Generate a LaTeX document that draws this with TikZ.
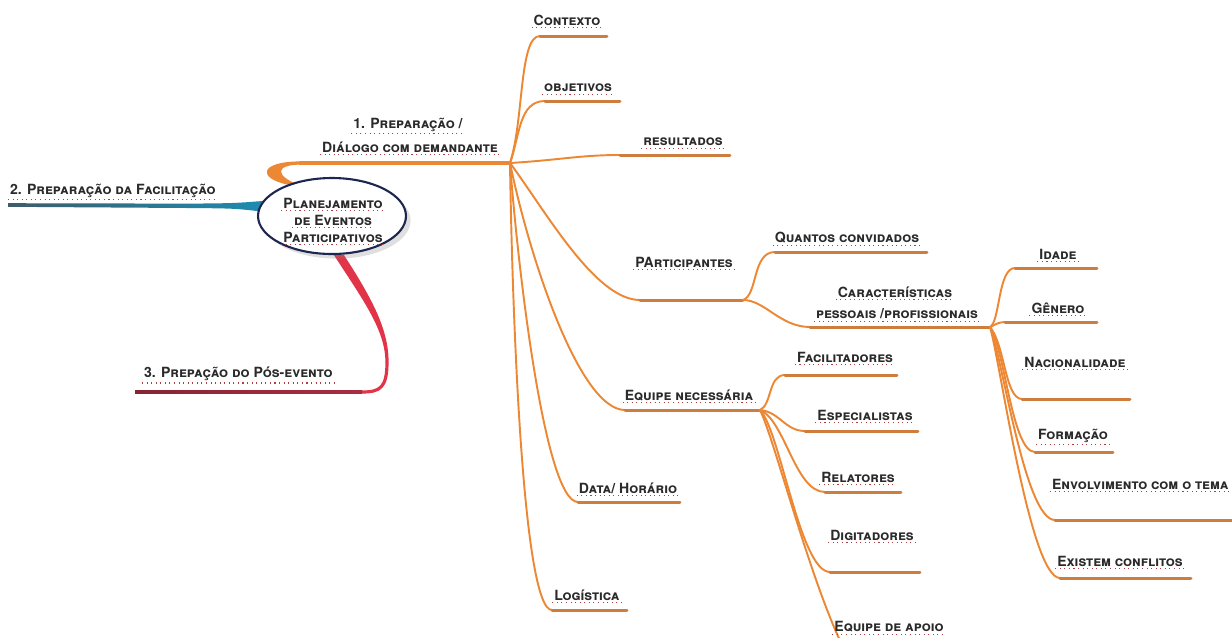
\documentclass[tikz,border=0pt]{standalone}
\usepackage{fontspec}
\setmainfont{TeX Gyre Heros}
\usetikzlibrary{calc,shapes.geometric,shadows,backgrounds}
\definecolor{twigorange}{RGB}{236,136,52}
\definecolor{leafbrown}{RGB}{205,125,62}
\definecolor{tealbright}{RGB}{28,140,176}
\definecolor{tealdark}{RGB}{62,92,106}
\definecolor{redbright}{RGB}{226,52,72}
\definecolor{reddark}{RGB}{168,46,66}
\definecolor{textgray}{RGB}{42,42,42}
\definecolor{ovalblue}{RGB}{28,38,78}
\definecolor{spellred}{RGB}{172,64,64}
\tikzset{
  spell/.style={dotted,line width=0.6pt,spellred},
  lbl/.style={font=\fontsize{8}{9}\selectfont\bfseries\scshape,text=textgray,inner sep=1pt,
    append after command={(\tikzlastnode.south west) edge[spell] (\tikzlastnode.south east)}},
  twig/.style={twigorange,line width=1.1pt,line cap=round},
  leaf/.style={leafbrown,line width=1.7pt,line cap=round},
  trunk/.style={twigorange,line width=1.8pt,line cap=round},
}
\begin{document}
\begin{tikzpicture}[x=0.02cm,y=-0.02cm,line join=round]
  \useasboundingbox (0,0) rectangle (1232,637);
  % centre
  \node[ellipse,draw=ovalblue,line width=1.2pt,fill=white,minimum width=2.96cm,
    minimum height=1.52cm,drop shadow={opacity=0.25}] (oval) at (332,216) {};
  \node[lbl] (plan1) at (333,203) {Planejamento};
  \node[lbl] (plan2) at (333,220) {de Eventos};
  \node[lbl] (plan3) at (333,237) {Participativos};

  % hubs and line ends
  \coordinate (hubA) at (510,163);
  \coordinate (hubP) at (743,300);
  \coordinate (hubE) at (760,410);
  \coordinate (hubC) at (990,327);
  \coordinate (trunkS) at (300,163);
  \coordinate (prep2end) at (8,205);
  \coordinate (redM) at (387,362);
  \coordinate (prep3S) at (362,392);
  \coordinate (prep3end) at (135,392);

  \begin{scope}[on background layer]
    % 1. orange trunk, thick at the oval
    \draw[trunk] (trunkS) -- (hubA);
    \fill[twigorange] ($(oval.140)+(-4,2)$) .. controls (256,178) and (260,161.5) .. ($(trunkS)+(0,-1.6)$)
      -- ($(trunkS)+(0,1.6)$) .. controls (274,165) and (276,176) .. ($(oval.140)+(6,2)$) -- cycle;
    % 2. teal
    \shade[left color=tealdark,right color=tealbright]
      ($(prep2end)+(0,-1.8)$) -- ($(oval.172)+(-70,-2.2)$)
      .. controls ($(oval.172)+(-25,-2.6)$) .. ($(oval.172)+(5,-5)$)
      -- ($(oval.172)+(5,6)$)
      .. controls ($(oval.172)+(-25,2.6)$) .. ($(oval.172)+(-70,2.2)$)
      -- ($(prep2end)+(0,1.8)$) -- cycle;
    % 3. red
    \fill[redbright] ($(oval.-80)+(-5,0)$) .. controls (363,300) and (385.4,330) .. ($(redM)+(-1.6,0)$)
      -- ($(redM)+(1.6,0)$) .. controls (388.6,330) and (373,300) .. ($(oval.-80)+(5,0)$) -- cycle;
    \draw[redbright,line width=1.8pt] (redM) .. controls (387,388) and (380,392) .. (prep3S);
    \shade[left color=reddark!80!black,right color=reddark]
      ($(prep3end)+(0,-1.6)$) -- ($(prep3S)+(0,-1.6)$) -- ($(prep3S)+(0,1.6)$) -- ($(prep3end)+(0,1.6)$) -- cycle;
  \end{scope}

  % 1. branch
  \draw[twig] (hubA) .. controls (524,120) and (519,36) .. (540,36) coordinate (ctxS);
  \draw[leaf] (ctxS) -- (607,36);
  \draw[twig] (hubA) .. controls (520,135) and (519,101) .. (545,101) coordinate (objS);
  \draw[leaf] (objS) -- (620,101);
  \draw[twig] (hubA) .. controls (560,160) and (580,155) .. (620,155) coordinate (resS);
  \draw[leaf] (resS) -- (730,155);
  \draw[twig] (hubA) .. controls (545,210) and (595,300) .. (640,300) coordinate (parS);
  \draw[leaf] (parS) -- (hubP);
  \draw[twig] (hubA) .. controls (530,260) and (580,410) .. (625,410) coordinate (eqS);
  \draw[leaf] (eqS) -- (hubE);
  \draw[twig] (hubA) .. controls (518,270) and (545,502) .. (578,502) coordinate (datS);
  \draw[leaf] (datS) -- (680,502);
  \draw[twig] (hubA) .. controls (512,300) and (522,610) .. (552,610) coordinate (logS);
  \draw[leaf] (logS) -- (627,610);

  % participantes
  \draw[twig] (hubP) .. controls (758,295) and (752,252) .. (775,252) coordinate (quaS);
  \draw[leaf] (quaS) -- (927,252);
  \draw[twig] (hubP) .. controls (765,300) and (780,327) .. (810,327) coordinate (carS);
  \draw[leaf] (carS) -- (hubC);

  % caracteristicas
  \draw[twig] (hubC) .. controls (1000,322) and (998,268) .. (1015,268) coordinate (idaS);
  \draw[leaf] (idaS) -- (1097,268);
  \draw[twig] (hubC) .. controls (995,325) and (998,322) .. (1005,322) coordinate (genS);
  \draw[leaf] (genS) -- (1097,322);
  \draw[twig] (hubC) .. controls (1005,345) and (1005,399) .. (1022,399) coordinate (nacS);
  \draw[leaf] (nacS) -- (1130,399);
  \draw[twig] (hubC) .. controls (1005,350) and (1012,452) .. (1035,452) coordinate (forS);
  \draw[leaf] (forS) -- (1113,452);
  \draw[twig] (hubC) .. controls (1003,360) and (1025,520) .. (1055,520) coordinate (envS);
  \draw[leaf] (envS) -- (1240,520);
  \draw[twig] (hubC) .. controls (1000,360) and (1030,578) .. (1060,578) coordinate (exiS);
  \draw[leaf] (exiS) -- (1191,578);

  % equipe
  \draw[twig] (hubE) .. controls (772,405) and (768,375) .. (785,375) coordinate (facS);
  \draw[leaf] (facS) -- (897,375);
  \draw[twig] (hubE) .. controls (780,412) and (785,431) .. (805,431) coordinate (espS);
  \draw[leaf] (espS) -- (918,431);
  \draw[twig] (hubE) .. controls (785,420) and (795,492) .. (825,492) coordinate (relS);
  \draw[leaf] (relS) -- (901,492);
  \draw[twig] (hubE) .. controls (780,430) and (800,572) .. (830,572) coordinate (digS);
  \draw[leaf] (digS) -- (920,572);
  \draw[twig] (hubE) .. controls (775,440) and (815,600) .. (850,660) coordinate (apoS);
  \draw[leaf] (apoS) -- (960,660);

  % labels
  \node[lbl] (prep1a) at (408,125) {1. Preparação /};
  \node[lbl] (prep1b) at (410,147) {Diálogo com demandante};
  \node[lbl,anchor=west] (prep2) at (8,191) {2. Preparação da Facilitação};
  \node[lbl,anchor=west] (prep3) at (142,374) {3. Prepação do Pós-evento};
  \node[lbl] (contexto) at (567,20) {Contexto};
  \node[lbl] (objetivos) at (578,88) {objetivos};
  \node[lbl] (resultados) at (683,142) {resultados};
  \node[lbl] (participantes) at (684,262) {PArticipantes};
  \node[lbl] (quantos) at (847,238) {Quantos convidados};
  \node[lbl] (carac1) at (895,292) {Características};
  \node[lbl] (carac2) at (897,314) {pessoais /profissionais};
  \node[lbl] (idade) at (1058,254) {Idade};
  \node[lbl] (genero) at (1058,308) {Gênero};
  \node[lbl] (nacional) at (1075,362) {Nacionalidade};
  \node[lbl] (formacao) at (1073,436) {Formação};
  \node[lbl,anchor=west] (envolv) at (1050,484) {Envolvimento com o tema};
  \node[lbl] (existem) at (1120,561) {Existem conflitos};
  \node[lbl] (equipe) at (689,395) {Equipe necessária};
  \node[lbl] (facilit) at (845,357) {Facilitadores};
  \node[lbl] (especial) at (865,415) {Especialistas};
  \node[lbl] (relatores) at (858,477) {Relatores};
  \node[lbl] (digitad) at (872,535) {Digitadores};
  \node[lbl] (apoio) at (889,627) {Equipe de apoio};
  \node[lbl] (data) at (628,488) {Data/ Horário};
  \node[lbl] (logistica) at (587,595) {Logística};
\end{tikzpicture}
\end{document}
